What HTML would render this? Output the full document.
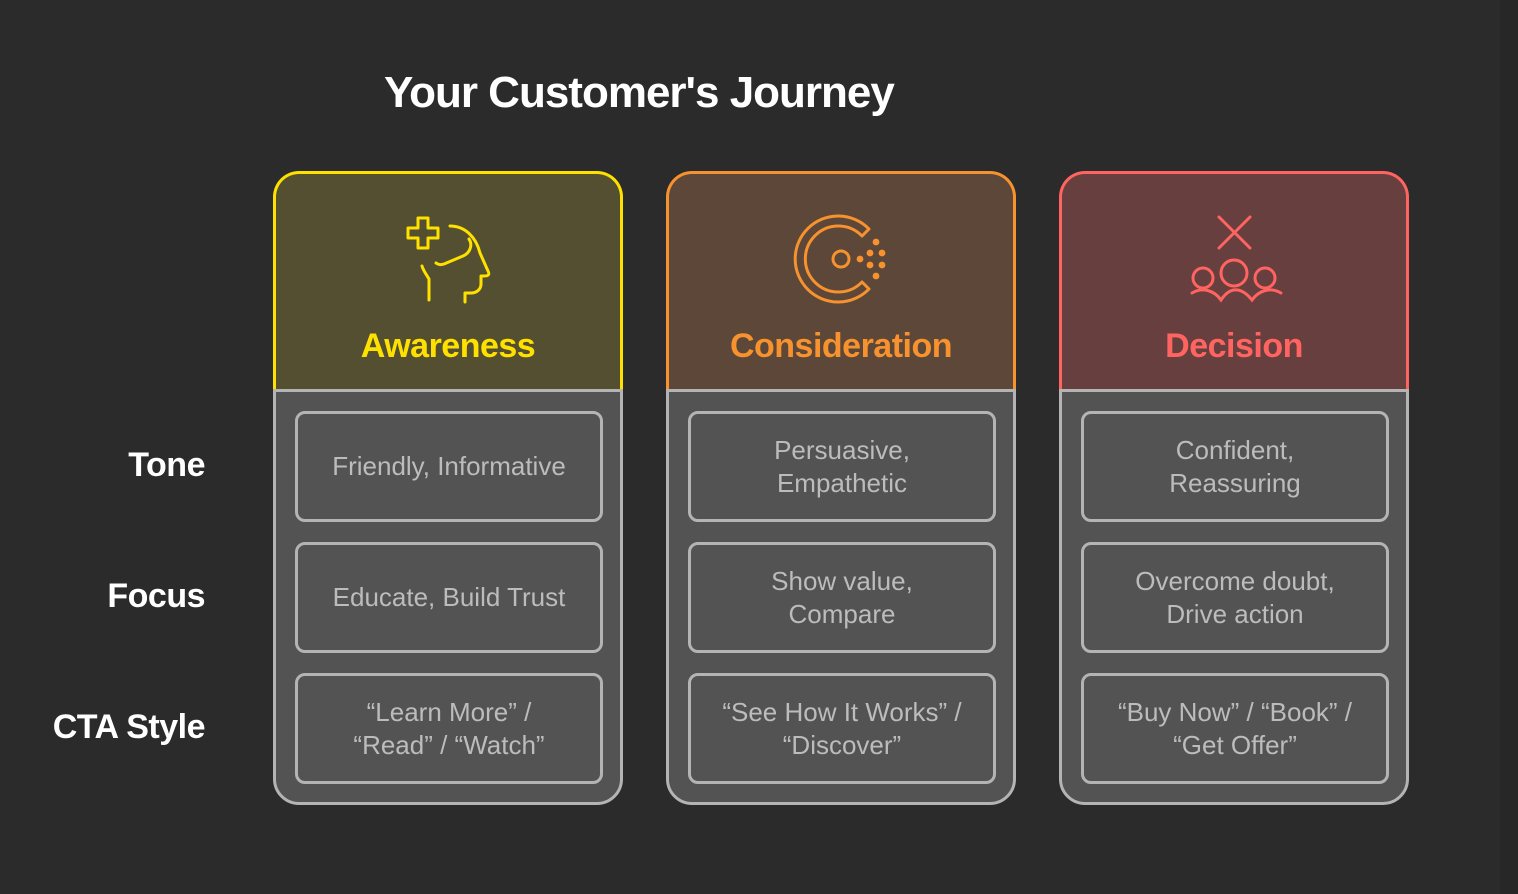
<!DOCTYPE html>
<html><head><meta charset="utf-8"><style>
body{margin:0;width:1518px;height:894px;background:#2b2b2b;font-family:"Liberation Sans",Arial,sans-serif;position:relative;overflow:hidden}
.title{position:absolute;left:384px;top:68px;color:#fff;font-weight:bold;font-size:44px;letter-spacing:-1px}
.lab{position:absolute;right:1313px;color:#fff;font-weight:bold;font-size:34px;letter-spacing:-0.5px;white-space:nowrap}
.card{position:absolute;top:171px;width:350px;height:634px}
.head{position:absolute;left:0;top:0;width:350px;height:218px;box-sizing:border-box;border:3px solid;border-bottom:none;border-radius:26px 26px 0 0}
.body{position:absolute;left:0;top:218px;width:350px;height:416px;box-sizing:border-box;border:3px solid #b4b4b4;border-radius:0 0 26px 26px;background:#535353}
.hl{position:absolute;left:0;right:0;top:153px;text-align:center;font-weight:bold;font-size:34px;letter-spacing:-0.5px}
.box{position:absolute;left:19px;width:308px;height:111px;box-sizing:border-box;border:3px solid #b4b4b4;border-radius:10px;display:flex;align-items:center;justify-content:center;text-align:center;color:#bcbcbc;font-size:26px;line-height:33px}
svg{position:absolute}
</style></head><body>
<div class="title">Your Customer's Journey</div>
<div class="lab" style="top:446px">Tone</div>
<div class="lab" style="top:577px">Focus</div>
<div class="lab" style="top:708px">CTA Style</div>

<div class="card" style="left:273px">
 <div class="head" style="border-color:#ffe100;background:#544f30">
  <svg width="350" height="150" viewBox="276 174 350 150" style="left:0;top:0"><g fill="none" stroke="#ffe100" stroke-width="3" stroke-linecap="round" stroke-linejoin="round">
   <path d="M418 218h10v10h10v10h-10v10h-10v-10h-10v-10h10z"/>
   <path d="M450 226c15 0 26 11 30 27l8 18c2 4 0 5-4 5h-3v8c0 5-4 9-10 9h-6v9"/>
   <path d="M436 263c3 2 5 2 8 1l19-8c7-3 10-11 6-17"/>
   <path d="M422 266c1 4 4 8 7 13v21"/>
  </g></svg>
  <div class="hl" style="color:#ffe100">Awareness</div>
 </div>
 <div class="body">
 <div class="box" style="top:19px">Friendly, Informative</div>
 <div class="box" style="top:150px">Educate, Build Trust</div>
 <div class="box" style="top:281px">“Learn More” /<br>“Read” / “Watch”</div>
 </div>
</div>

<div class="card" style="left:666px">
 <div class="head" style="border-color:#f7922e;background:#5c4738">
  <svg width="350" height="150" viewBox="669 174 350 150" style="left:0;top:0"><g fill="none" stroke="#f7922e" stroke-width="3">
   <path d="M869 229A43 43 0 1 0 869 289L862 282A33 33 0 1 1 862 236Z" stroke-linejoin="round"/>
   <circle cx="841" cy="259" r="8"/></g>
   <g fill="#f7922e"><circle cx="860" cy="259" r="3.4"/><circle cx="870" cy="253" r="3.4"/><circle cx="882" cy="253" r="3.4"/><circle cx="870" cy="265" r="3.4"/><circle cx="882" cy="265" r="3.4"/><circle cx="876" cy="242" r="3.4"/><circle cx="876" cy="276" r="3.4"/></g>
  </svg>
  <div class="hl" style="color:#f7922e">Consideration</div>
 </div>
 <div class="body">
 <div class="box" style="top:19px">Persuasive,<br>Empathetic</div>
 <div class="box" style="top:150px">Show value,<br>Compare</div>
 <div class="box" style="top:281px">“See How It Works” /<br>“Discover”</div>
 </div>
</div>

<div class="card" style="left:1059px">
 <div class="head" style="border-color:#ff6461;background:#673f3f">
  <svg width="350" height="150" viewBox="1062 174 350 150" style="left:0;top:0"><g fill="none" stroke="#ff6461" stroke-width="3" stroke-linecap="round">
   <path d="M1219 217l31 31M1250 217l-31 31"/>
   <circle cx="1203" cy="278" r="10"/><circle cx="1234" cy="273" r="13"/><circle cx="1265" cy="278" r="10"/>
   <path d="M1192 293c10-6 22-3 29 7c8-12 19-15 31 0c7-10 19-13 29-7"/>
  </g></svg>
  <div class="hl" style="color:#ff6461">Decision</div>
 </div>
 <div class="body">
 <div class="box" style="top:19px">Confident,<br>Reassuring</div>
 <div class="box" style="top:150px">Overcome doubt,<br>Drive action</div>
 <div class="box" style="top:281px">“Buy Now” / “Book” /<br>“Get Offer”</div>
 </div>
</div>
<div style="position:absolute;left:1500px;top:0;width:18px;height:894px;background:#272727"></div>
</body></html>
